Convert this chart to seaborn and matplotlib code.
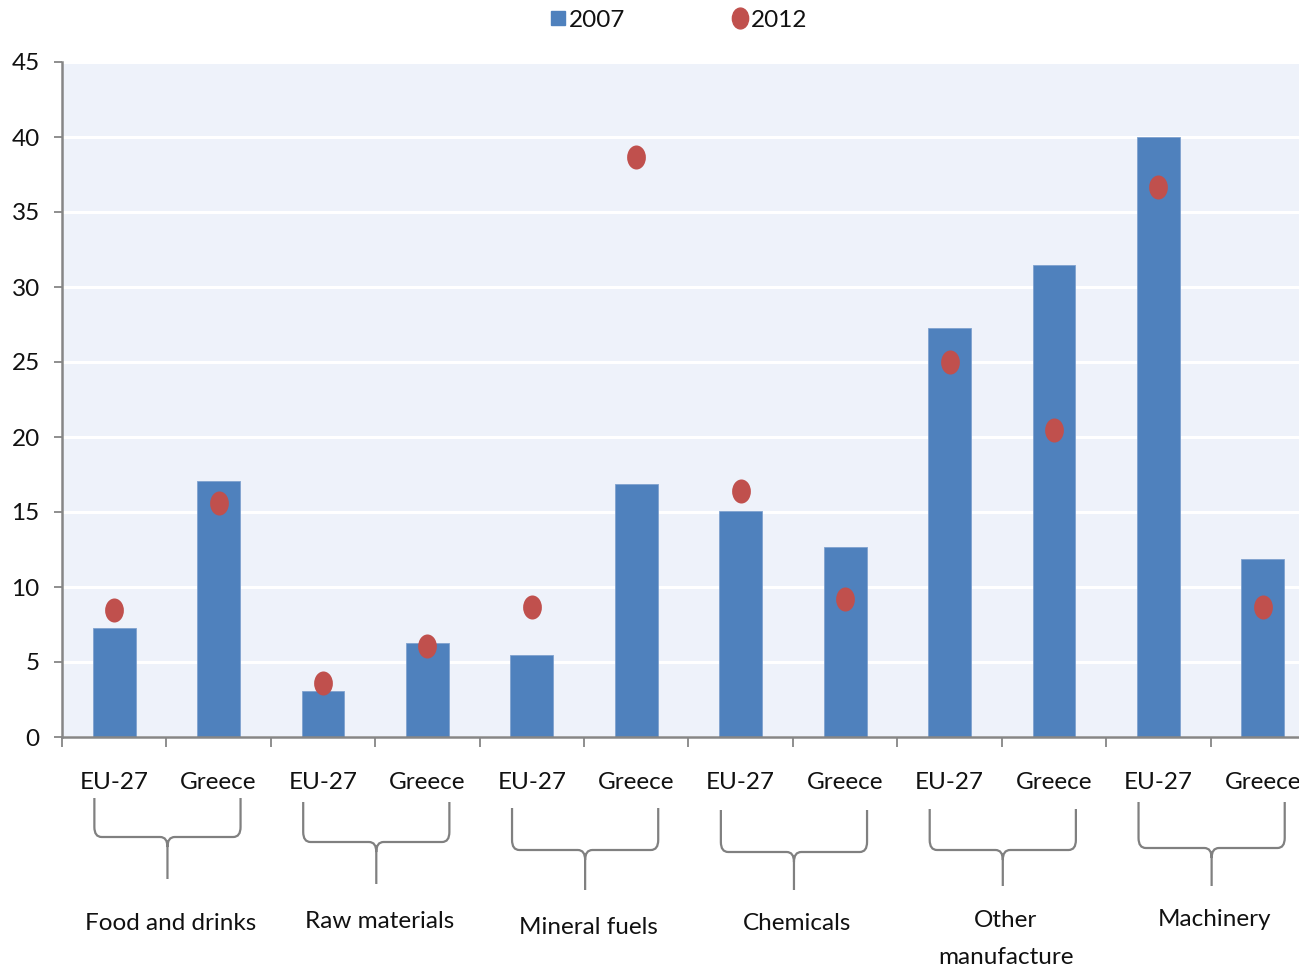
import numpy as np
import pandas as pd
import matplotlib
matplotlib.use("Agg")
import matplotlib.pyplot as plt
from matplotlib.path import Path
from matplotlib.patches import PathPatch
from matplotlib.lines import Line2D
from matplotlib.transforms import blended_transform_factory, Affine2D
import seaborn as sns

# Product groups and the two reporters inside each group
groups = ["Food and drinks", "Raw materials", "Mineral fuels",
          "Chemicals", "Other\nmanufacture", "Machinery"]
reporters = ["EU-27", "Greece"]

# Shares (%) by reporter within each product group
share_2007 = [7.3, 17.1, 3.1, 6.3, 5.5, 16.9, 15.1, 12.7, 27.3, 31.5, 40.0, 11.9]
share_2012 = [8.5, 15.6, 3.6, 6.1, 8.7, 38.7, 16.4, 9.2, 25.0, 20.5, 36.7, 8.7]

y_ticks = [0, 5, 10, 15, 20, 25, 30, 35, 40, 45]

BLUE = "#4F81BD"
RED = "#C0504D"
BG = "#EEF2FA"
GREY = "#868686"
FS = 17.5

sns.set_theme(style="white")
plt.rcParams["font.family"] = ["Lato", "DejaVu Sans"]
plt.rcParams["text.color"] = "#111111"
plt.rcParams["xtick.color"] = "#111111"
plt.rcParams["ytick.color"] = "#111111"

labels = [r for _ in groups for r in reporters]
df = pd.DataFrame({"pos": np.arange(len(labels)), "label": labels,
                   "y2007": share_2007, "y2012": share_2012})

W, H = 1299, 973
fig = plt.figure(figsize=(W / 100, H / 100), dpi=100)
ax_left, ax_bottom = 62 / W, (H - 737) / H
ax_w, ax_h = (1315 - 62) / W, 675 / H
ax = fig.add_axes([ax_left, ax_bottom, ax_w, ax_h])
ax.set_facecolor(BG)

sns.barplot(data=df, x="pos", y="y2007", color=BLUE, width=0.41,
            saturation=1, edgecolor="#7fa2cf", linewidth=0.6, ax=ax, zorder=2)

# Elliptical marker for the 2012 points
ell = Path.unit_circle().transformed(Affine2D().scale(0.78, 1.0))
sns.scatterplot(data=df, x="pos", y="y2012", color=RED, marker=ell, s=300,
                linewidth=0, ax=ax, zorder=3, legend=False)

ax.set_xlim(-0.5, len(labels) - 0.5)
ax.set_ylim(0, 45)
ax.set_yticks(y_ticks)
ax.set_yticklabels([str(v) for v in y_ticks], fontsize=FS)
ax.yaxis.grid(True, color="white", linewidth=2.2, zorder=0)
ax.set_axisbelow(True)
ax.set_xlabel("")
ax.set_ylabel("")

# Boundary ticks between bars, labels centered under each bar
ax.set_xticks(np.arange(len(labels)) - 0.5)
ax.set_xticklabels([])
ax.set_xticks(np.arange(len(labels)), minor=True)
ax.set_xticklabels(labels, minor=True, fontsize=FS)
ax.tick_params(axis="x", which="major", direction="out", length=7,
               width=1.3, color=GREY, bottom=True)
ax.tick_params(axis="x", which="minor", length=0, pad=25)
ax.tick_params(axis="y", direction="out", length=6, width=1.3, color=GREY,
               left=True, pad=10)

for s in ["top", "right"]:
    ax.spines[s].set_visible(False)
for s in ["left", "bottom"]:
    ax.spines[s].set_color(GREY)
    ax.spines[s].set_linewidth(1.8)

# Group braces below the reporter labels (offsets in px below the axis)
trans = blended_transform_factory(ax.transData, ax.transAxes)
px = 1 / 675.0
brace_top = [61, 65, 71, 73, 72, 65]
brace_mid = [100, 105, 113, 115, 113, 111]
brace_bot = [142, 147, 153, 153, 149, 149]
label_off = [187, 185, 190, 187, 202, 183]
rx, ry = 0.07, 10 * px
for g, name in enumerate(groups):
    L, R = 2 * g - 0.19, 2 * g + 1.21
    m = (L + R) / 2
    top, h, bot = -brace_top[g] * px, -brace_mid[g] * px, -brace_bot[g] * px
    verts, codes = [], []
    for side, sgn in ((L, 1), (R, -1)):
        verts += [(side, top), (side, h + ry), (side, h), (side + sgn * rx, h),
                  (m - sgn * rx, h), (m, h), (m, h - ry)]
        codes += [Path.MOVETO, Path.LINETO, Path.CURVE3, Path.CURVE3,
                  Path.LINETO, Path.CURVE3, Path.CURVE3]
    verts += [(m, h - ry), (m, bot)]
    codes += [Path.MOVETO, Path.LINETO]
    ax.add_patch(PathPatch(Path(verts, codes), transform=trans, fill=False,
                           edgecolor="#808080", linewidth=1.6, clip_on=False))
    ax.text(m + 0.03, -label_off[g] * px, name, transform=trans, ha="center",
            va="center", fontsize=FS, linespacing=1.9)

handles = [Line2D([], [], linestyle="none", marker="s", markersize=10,
                  color=BLUE, label="2007"),
           Line2D([], [], linestyle="none", marker=ell, markersize=15,
                  color=RED, label="2012")]
fig.legend(handles=handles, loc="center", bbox_to_anchor=(678 / W, 1 - 20 / H),
           ncol=2, frameon=False, fontsize=FS, handletextpad=0.05,
           columnspacing=4.3, handlelength=0.8)

fig.savefig("out.png", dpi=100)
